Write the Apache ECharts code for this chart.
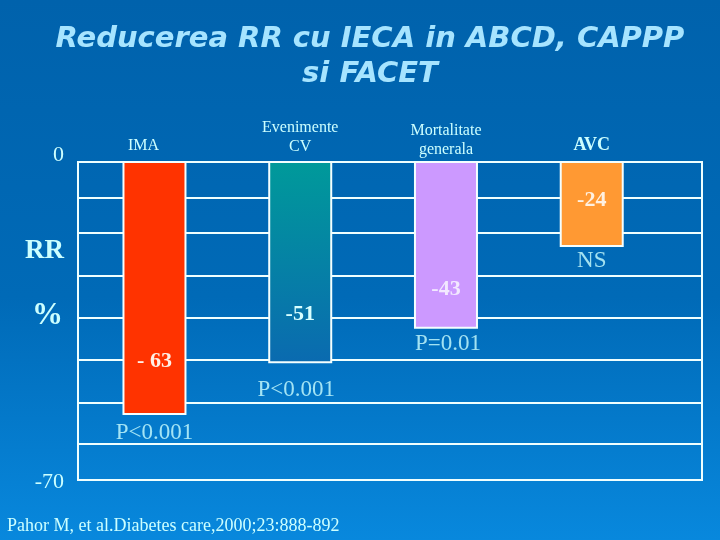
<!DOCTYPE html>
<html>
<head>
<meta charset="utf-8">
<script src="https://cdn.jsdelivr.net/npm/echarts@6/dist/echarts.min.js"></script>
<style>html,body{margin:0;padding:0;}#c{width:720px;height:540px;}</style>
</head>
<body>
<div id="c"></div>
<script>
// ---- data ----
const categories = ['IMA', 'Evenimente\nCV', 'Mortalitate\ngenerala', 'AVC'];
const values = [-63, -51, -43, -24];
const valueLabels = ['- 63', '-51', '-43', '-24'];
const pLabels = ['P<0.001', 'P<0.001', 'P=0.01', 'NS'];
const gridValues = [-7.9, -15.6, -25.1, -34.3, -43.6, -53.0, -62.1];
const axisTicks = [0, -70];
const titleText = 'Reducerea RR cu IECA in ABCD, CAPPP\nsi FACET';
const sourceText = 'Pahor M, et al.Diabetes care,2000;23:888-892';

// ---- styles ----
const LIGHT = '#CCFFFF';
const SERIF = 'Liberation Serif';
const barColors = [
  '#FF3300',
  {type:'linear',x:0,y:0,x2:0,y2:1,colorStops:[{offset:0,color:'#009A9A'},{offset:1,color:'#0A6AB0'}]},
  '#CC99FF',
  '#FF9933'
];
const valueLabelColors = ['#FFF0E6', '#D8FFFF', '#F2E8FF', '#FFF0E0'];
const valueLabelDist = [43, 38, 28, 36];
const pLabelDist = [6, 15, 3, 2];
const pLabelOffset = [[0,0],[-4,0],[2,0],[0,0]];
const catRich = {
  c0: {fontFamily: SERIF, fontSize: 16, color: LIGHT, lineHeight: 18, padding: [0, 22, 14, 0]},
  c1: {fontFamily: SERIF, fontSize: 16, color: LIGHT, lineHeight: 19, padding: [0, 0, 11, 0]},
  c2: {fontFamily: SERIF, fontSize: 16, color: LIGHT, lineHeight: 19, padding: [0, 0, 5, 0]},
  c3: {fontFamily: SERIF, fontSize: 18, fontWeight: 'bold', color: LIGHT, lineHeight: 18, padding: [0, 0, 16, 0]}
};

const chart = echarts.init(document.getElementById('c'), null, {renderer: 'canvas'});

const option = {
  animation: false,
  backgroundColor: {type:'linear',x:0,y:0,x2:0,y2:1,colorStops:[
    {offset:0,color:'#0062AC'},{offset:0.55,color:'#006AB7'},{offset:1,color:'#0888DD'}]},
  title: {
    text: titleText,
    left: 365,
    textAlign: 'center',
    top: 17,
    textStyle: {fontFamily: 'DejaVu Sans', fontStyle: 'italic', fontWeight: 'bold',
      fontSize: 29, lineHeight: 35, color: '#A6E4FF'}
  },
  grid: [
    {left: 78, right: 18, top: 162, bottom: 60, show: true, borderColor: '#EFFFFF', borderWidth: 2, backgroundColor: 'transparent'},
    {left: 81.6, right: 55.4, top: 162, bottom: 60}
  ],
  xAxis: [
    {gridIndex: 0, type: 'value', min: 0, max: 1, show: false},
    {gridIndex: 1, type: 'category', data: categories, position: 'top',
      axisLine: {show: false}, axisTick: {show: false},
      axisLabel: {margin: 0, interval: 0,
        formatter: (v, i) => '{c' + i + '|' + v + '}', rich: catRich}}
  ],
  yAxis: [
    {gridIndex: 0, type: 'value', min: -70, max: 0, interval: 70,
      axisLine: {show: false}, axisTick: {show: false}, splitLine: {show: false},
      axisLabel: {margin: 14, formatter: v => (v === axisTicks[0] ? '{t|' + v + '}' : '{b|' + v + '}'),
        rich: {
          t: {fontFamily: SERIF, fontSize: 22, color: LIGHT, padding: [0, 0, 14, 0]},
          b: {fontFamily: SERIF, fontSize: 22, color: LIGHT, padding: [4, 0, 0, 0]}
        }}},
    {gridIndex: 1, type: 'value', min: -78.1, max: -4.3, show: false}
  ],
  series: [
    {
      type: 'line', xAxisIndex: 0, yAxisIndex: 0, data: [], silent: true,
      markLine: {silent: true, z: 1, symbol: 'none', label: {show: false},
        lineStyle: {color: '#EFFFFF', width: 2, type: 'solid'},
        data: gridValues.map(v => ({yAxis: v}))}
    },
    {
      type: 'bar', xAxisIndex: 1, yAxisIndex: 1, z: 3, barWidth: 64, clip: true,
      data: values.map((v, i) => ({
        value: v,
        itemStyle: {color: barColors[i], borderColor: '#F4FFFF', borderWidth: 2},
        label: {show: true, position: 'insideBottom', distance: valueLabelDist[i],
          formatter: () => valueLabels[i], fontFamily: SERIF, fontWeight: 'bold',
          fontSize: 22, color: valueLabelColors[i]}
      }))
    },
    {
      type: 'scatter', xAxisIndex: 1, yAxisIndex: 1, z: 4, symbolSize: 1,
      itemStyle: {color: 'rgba(0,0,0,0)'}, silent: true,
      data: values.map((v, i) => ({
        value: v,
        label: {show: true, position: 'bottom', distance: pLabelDist[i], offset: pLabelOffset[i],
          formatter: () => pLabels[i], fontFamily: SERIF, fontSize: 23, color: LIGHT}
      }))
    }
  ],
  graphic: [
    {type: 'text', left: 25, top: 238, style: {text: 'RR', fontFamily: SERIF, fontWeight: 'bold', fontSize: 27, fill: LIGHT}},
    {type: 'text', left: 32, top: 300, style: {text: '%', fontFamily: SERIF, fontWeight: 'bold', fontSize: 31, fill: LIGHT}},
    {type: 'text', left: 7, top: 517, style: {text: sourceText, fontFamily: SERIF, fontSize: 18, fill: LIGHT}}
  ]
};
chart.setOption(option);
</script>
</body>
</html>
